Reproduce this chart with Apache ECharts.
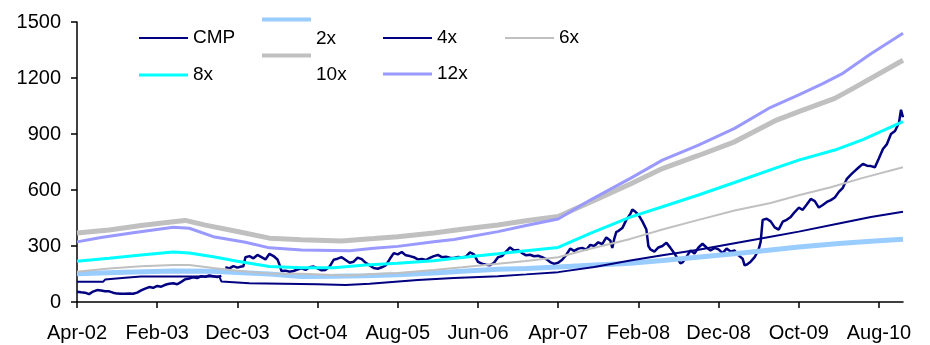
<!DOCTYPE html>
<html>
<head>
<meta charset="utf-8">
<title>CMP PE band</title>
<script src="https://cdn.jsdelivr.net/npm/echarts@6/dist/echarts.min.js"></script>
<style>
	html, body { margin: 0; padding: 0; background: #fff; }
	#main { width: 930px; height: 345px; }
</style>
</head>
<body>
<div id="main"></div>
<script>
// x 轴刻度标签, 每 10 个月一个 (Apr-02 = 第 0 月)
var tickLabels = ['Apr-02', 'Feb-03', 'Dec-03', 'Oct-04', 'Aug-05', 'Jun-06', 'Apr-07', 'Feb-08', 'Dec-08', 'Oct-09', 'Aug-10'];
var lastMonth = 103;
var stepsPerMonth = 4;

// [月份, 值]
var cmp = [[0,55],[0.5,52],[1,50],[1.5,42],[2,56],[2.5,64],[3,62],[3.5,58],[4,57],[4.5,50],[5,45],[5.5,44],[6,44],[6.5,45],[7,44],[7.5,50],
	[8,62],[8.5,72],[9,80],[9.5,76],[10,86],[10.5,82],[11,92],[11.5,98],[12,100],[12.5,95],[13,108],[13.5,122],[14,126],[14.5,133],[15,128],
	[15.5,138],[16,135],[16.5,142],[17,138],[17.5,134],[18,140],[18.25,null],[18.5,186],[19,180],[19.5,192],[20,184],[20.5,190],[20.75,192],
	[21,240],[21.5,246],[22,234],[22.5,252],[23,240],[23.5,228],[24,258],[24.5,246],[25,228],[25.25,200],[25.5,166],[26,168],[26.5,162],
	[27,166],[27.5,174],[28,180],[28.5,172],[29,186],[29.5,190],[30,180],[30.5,170],[31,172],[31.5,190],[32,226],[32.5,232],[33,240],
	[33.5,225],[34,210],[34.5,216],[35,238],[35.5,230],[36,210],[36.5,196],[37,182],[37.5,178],[38,186],[38.5,196],[39,230],[39.5,262],
	[40,255],[40.5,268],[41,250],[41.5,246],[42,240],[42.5,228],[43,231],[43.5,225],[44,236],[44.5,246],[45,252],[45.5,240],[46,243],
	[46.5,237],[47,236],[47.5,241],[48,238],[48.5,243],[49,266],[49.5,255],[50,215],[50.5,205],[51,200],[51.5,197],[52,210],[52.5,240],
	[53,246],[53.5,270],[54,292],[54.5,276],[55,279],[55.5,262],[56,250],[56.5,253],[57,245],[57.5,248],[58,240],[58.5,230],[59,214],
	[59.5,204],[60,210],[60.5,226],[61,252],[61.5,286],[62,274],[62.5,286],[63,290],[63.5,280],[64,306],[64.5,300],[65,320],[65.5,310],
	[66,346],[66.5,330],[66.75,290],[67,340],[67.25,376],[67.5,380],[68,396],[68.5,440],[69,472],[69.25,496],[69.5,488],[70,468],[70.5,432],
	[71,388],[71.25,300],[71.5,282],[72,270],[72.5,292],[73,300],[73.5,318],[74,290],[74.5,260],[75,225],[75.25,207],[75.5,212],[76,242],
	[76.5,276],[77,260],[77.5,292],[78,312],[78.5,292],[79,276],[79.5,290],[80,282],[80.5,262],[81,286],[81.5,270],[82,276],[82.5,250],
	[83,232],[83.25,196],[83.5,200],[84,216],[84.5,240],[85,282],[85.25,322],[85.5,440],[86,446],[86.5,432],[87,400],[87.5,388],[88,430],
	[88.5,440],[89,456],[89.5,482],[90,505],[90.5,494],[91,522],[91.5,552],[92,540],[92.5,506],[93,520],[93.5,536],[94,546],[94.5,560],
	[95,590],[95.5,612],[96,660],[96.5,682],[97,702],[97.5,722],[98,740],[98.5,730],[99,728],[99.5,722],[100,770],[100.5,820],[101,846],
	[101.5,900],[102,916],[102.5,960],[102.75,1030],[103,990]];

var band2x = [[0,152],[6,160],[12,166],[17,165],[20,158],[24,150],[28,137],[32,138],[36,140],[40,146],[44.5,155],[48,165],[52.5,175],
	[56,180],[60,187],[64,197],[69,208],[73,222],[77,238],[82,258],[86.5,279],[90,295],[95,314],[99,326],[103,336]];

var band4x = [[0,108],[3.25,108],[3.5,120],[6,130],[8,136],[17.75,136],[18,110],[21.5,100],[30,95],[33.5,91],[36.5,98],[42.5,118],
	[47,128],[52.5,138],[56,148],[60,160],[64.5,188],[69,222],[73,250],[77.5,280],[82,315],[86.5,350],[90,377],[95,420],[99,455],[103,484]];

var band6x = [[0,162],[4,180],[8,192],[12,198],[14,198],[17,182],[20,168],[24,152],[28,152],[32,145],[34,142],[37,150],[40,156],
	[44.5,172],[48,186],[52.5,205],[56,220],[60,240],[64,285],[69,338],[73,388],[77.5,440],[82,490],[86.5,530],[90,572],[94,615],[98,665],[103,722]];

var band8x = [[0,218],[4,234],[8,252],[12,268],[14,262],[17,242],[20,218],[24,190],[28,184],[32,184],[36,198],[40,207],[44.5,221],
	[48,238],[52.5,258],[56,275],[60,292],[64,368],[69,455],[73,510],[77.5,573],[82,640],[87,716],[90,760],[94.5,814],[98,870],[103,966]];

var band10x = [[0,370],[4,386],[8,410],[12,430],[13.5,437],[16,412],[20,378],[24,342],[28,334],[33,327],[37,340],[40,350],[44.5,370],
	[48,390],[52.5,412],[56,435],[60,458],[64,535],[69,632],[73,715],[77.5,785],[82,858],[87,970],[90,1020],[94.5,1091],[97,1150],[103,1295]];

var band12x = [[0,322],[3,345],[7,371],[12,400],[14,395],[17,350],[21,320],[24,290],[28,279],[34,275],[37,288],[40,298],[44.5,323],
	[47,335],[52.5,377],[56,410],[60,445],[64,546],[69,662],[73,760],[77.5,841],[82,930],[86.5,1043],[90,1110],[93,1170],[95.5,1225],
	[99,1330],[103,1440]];

var font = 'Arial, "Liberation Sans", sans-serif';

// 类目: 每 1/4 月一个
var categories = [];
for (var i = 0; i <= lastMonth * stepsPerMonth; i++) {
	categories.push(String(i));
}

function toPoints(list) {
	return list.map(function(p) {
		return [Math.round(p[0] * stepsPerMonth), p[1]];
	});
}

// 图例, 每项单独放置 (2x / 10x 的线在文字上方)
function legendItem(name, color, left, centerY, thick, raise) {
	var w = 49;
	var h = thick;
	var icon = 'path://M0,0H' + w + 'V' + thick + 'H0Z';
	if (raise) {
		h = 2 * (raise + thick / 2);
		icon += 'M0,' + h + 'H0.01V' + (h - 0.01) + 'Z';
	}
	return {
		data: [{ name: name, icon: icon, itemStyle: { color: color, borderWidth: 0 } }],
		left: left,
		top: centerY - Math.max(h, 19) / 2,
		padding: 0,
		itemWidth: w,
		itemHeight: h,
		selectedMode: false,
		textStyle: { color: '#000', fontSize: 19, lineHeight: 19, fontFamily: font }
	};
}

var legends = [
	legendItem('CMP', '#000080', 139, 38, 2),
	legendItem('2x', '#99CCFF', 262, 39, 4, 19.5),
	legendItem('4x', '#000080', 383, 38, 2),
	legendItem('6x', '#C0C0C0', 505, 38, 2),
	legendItem('8x', '#00FFFF', 139, 75, 3),
	legendItem('10x', '#C0C0C0', 262, 75, 4, 19.5),
	legendItem('12x', '#9999FF', 383, 74, 3)
];

function line(name, data, color, width) {
	return {
		name: name,
		type: 'line',
		data: toPoints(data),
		symbol: 'none',
		showSymbol: false,
		connectNulls: false,
		lineStyle: { color: color, width: width },
		itemStyle: { color: color },
		emphasis: { disabled: true }
	};
}

var option = {
	animation: false,
	backgroundColor: '#fff',
	textStyle: { fontFamily: font },
	grid: {
		left: 77,
		right: 27,
		top: 22,
		bottom: 43
	},
	legend: legends,
	xAxis: {
		type: 'category',
		data: categories,
		boundaryGap: false,
		axisLine: { lineStyle: { color: '#000', width: 1.5 } },
		axisTick: { interval: 39, length: 6, lineStyle: { color: '#000', width: 1.5 } },
		axisLabel: {
			interval: 39,
			margin: 21,
			color: '#000',
			fontSize: 20,
			fontFamily: font,
			formatter: function(value, index) {
				return tickLabels[index / 40] || '';
			}
		},
		splitLine: { show: false }
	},
	yAxis: {
		type: 'value',
		min: 0,
		max: 1500,
		interval: 300,
		axisLine: { show: true, lineStyle: { color: '#000', width: 1.5 } },
		axisTick: { show: true, length: 6, lineStyle: { color: '#000', width: 1.5 } },
		axisLabel: {
			margin: 16,
			color: '#000',
			fontSize: 20,
			fontFamily: font,
			formatter: function(value) {
				return String(value);
			}
		},
		splitLine: { show: false }
	},
	series: [
		line('CMP', cmp, '#000080', 2.5),
		line('2x', band2x, '#99CCFF', 5),
		line('4x', band4x, '#000080', 2),
		line('6x', band6x, '#C0C0C0', 2),
		line('8x', band8x, '#00FFFF', 3),
		line('10x', band10x, '#C0C0C0', 5),
		line('12x', band12x, '#9999FF', 3)
	]
};

var myChart = echarts.init(document.getElementById('main'));
myChart.setOption(option);
</script>
</body>
</html>
